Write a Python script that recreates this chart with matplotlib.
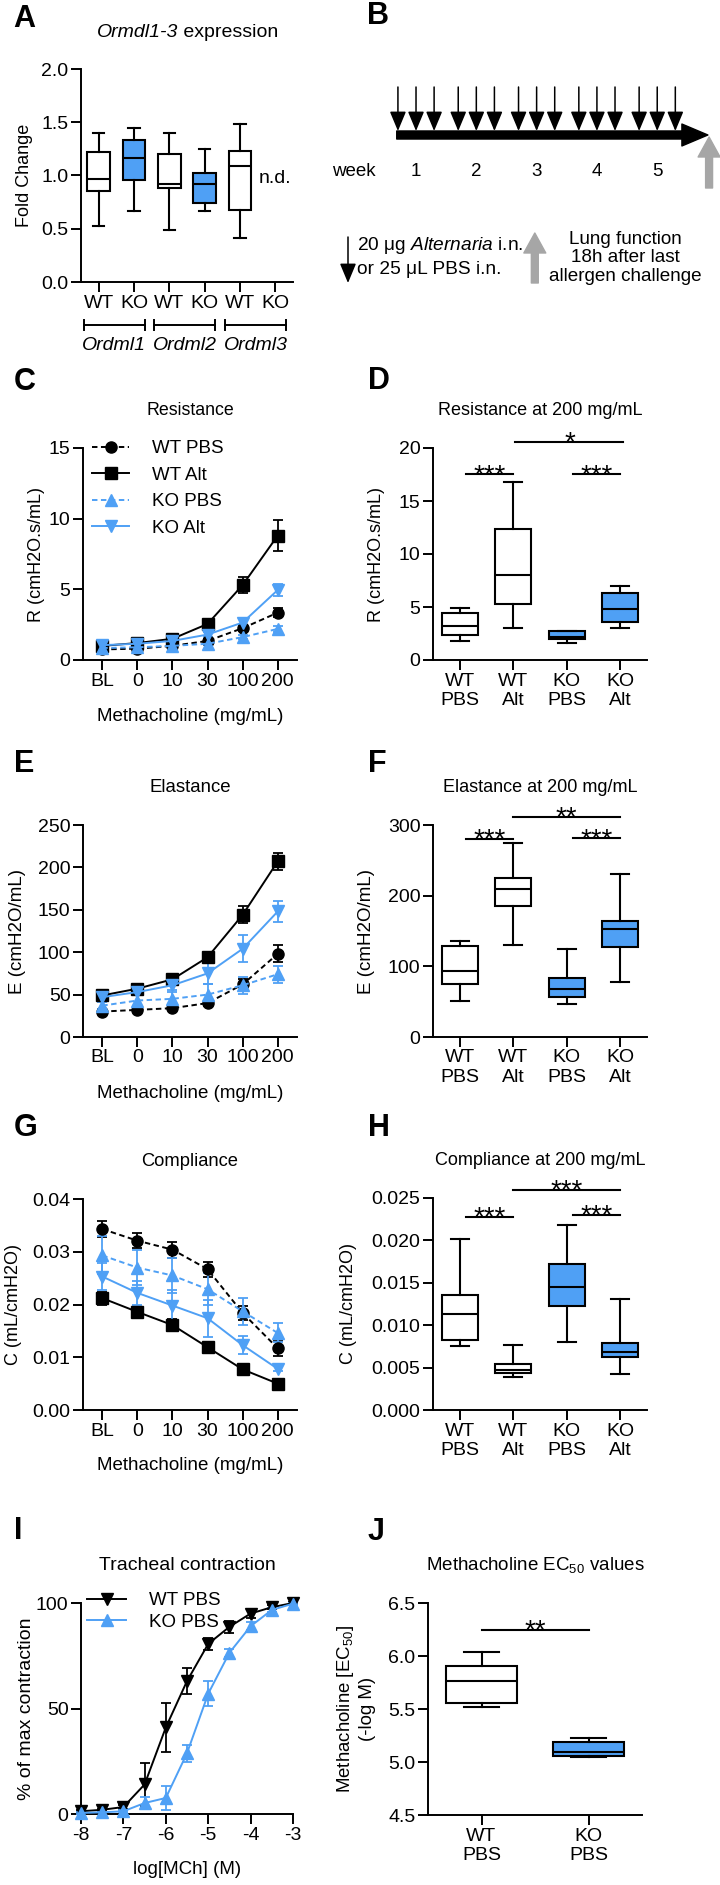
import matplotlib
matplotlib.use('Agg')
import matplotlib.pyplot as plt
from matplotlib.patches import FancyArrowPatch
from matplotlib.ticker import FormatStrFormatter
from matplotlib.transforms import blended_transform_factory

plt.rcParams['font.family'] = ['Liberation Sans', 'DejaVu Sans']
plt.rcParams['mathtext.fontset'] = 'custom'
plt.rcParams['mathtext.rm'] = 'Liberation Sans'
plt.rcParams['mathtext.it'] = 'Liberation Sans:italic'
plt.rcParams['mathtext.bf'] = 'Liberation Sans:bold'
plt.rcParams['axes.unicode_minus'] = False
plt.rcParams['axes.linewidth'] = 1.4

BLUE = '#4FA0F5'
GRAY = '#A6A6A6'

# ---------------- data ----------------
# A: Ormdl expression (whisker low, q1, median, q3, whisker high); Ordml3 KO not detected
ormdl_ticks = ['WT', 'KO', 'WT', 'KO', 'WT', 'KO']
ormdl_genes = ['Ordml1', 'Ordml2', 'Ordml3']
ormdl_stats = [[0.53, 0.85, 0.97, 1.22, 1.40],
               [0.67, 0.96, 1.16, 1.33, 1.45],
               [0.49, 0.88, 0.92, 1.20, 1.40],
               [0.67, 0.74, 0.92, 1.02, 1.25],
               [0.41, 0.68, 1.09, 1.23, 1.48]]
ormdl_ko = [False, True, False, True, False]

# B: dosing schedule, 3 doses per week
weeks = [1, 2, 3, 4, 5]
dose_offsets = [-0.3, 0.0, 0.3]

# C/E/G: lung function curves
mch_doses = ['BL', '0', '10', '30', '100', '200']
groups = ['WT PBS', 'WT Alt', 'KO PBS', 'KO Alt']
group_colors = ['black', 'black', BLUE, BLUE]
group_markers = ['o', 's', '^', 'v']
group_lines = [(0, (2.8, 1.8)), '-', (0, (2.8, 1.8)), '-']

res_wt_pbs = [0.75, 0.80, 1.00, 1.35, 2.25, 3.35]
res_wt_alt = [1.00, 1.20, 1.50, 2.55, 5.30, 8.80]
res_ko_pbs = [0.85, 0.90, 1.00, 1.15, 1.62, 2.20]
res_ko_alt = [1.05, 1.15, 1.35, 1.80, 2.65, 4.95]
res_wt_pbs_err = [0.08, 0.08, 0.10, 0.12, 0.20, 0.30]
res_wt_alt_err = [0.10, 0.10, 0.20, 0.20, 0.55, 1.10]
res_ko_pbs_err = [0.08, 0.08, 0.10, 0.12, 0.15, 0.20]
res_ko_alt_err = [0.10, 0.10, 0.15, 0.15, 0.25, 0.40]

ela_wt_pbs = [30, 32, 34, 40, 62, 98]
ela_wt_alt = [49, 57, 68, 94, 144, 207]
ela_ko_pbs = [37, 43, 45, 50, 61, 74]
ela_ko_alt = [47, 53, 61, 75, 104, 148]
ela_wt_pbs_err = [2, 2, 2, 3, 6, 10]
ela_wt_alt_err = [3, 4, 4, 5, 10, 10]
ela_ko_pbs_err = [4, 6, 8, 12, 10, 10]
ela_ko_alt_err = [3, 4, 6, 12, 16, 12]

com_wt_pbs = [0.0343, 0.0321, 0.0304, 0.0267, 0.0184, 0.0117]
com_wt_alt = [0.0212, 0.0186, 0.0161, 0.0119, 0.0077, 0.0050]
com_ko_pbs = [0.0293, 0.0270, 0.0255, 0.0229, 0.0187, 0.0146]
com_ko_alt = [0.0253, 0.0222, 0.0198, 0.0174, 0.0123, 0.0078]
com_wt_pbs_err = [0.0015, 0.0014, 0.0015, 0.0014, 0.0013, 0.0014]
com_wt_alt_err = [0.0012, 0.0010, 0.0011, 0.0006, 0.0005, 0.0004]
com_ko_pbs_err = [0.0036, 0.0033, 0.0033, 0.0030, 0.0025, 0.0018]
com_ko_alt_err = [0.0025, 0.0022, 0.0030, 0.0035, 0.0017, 0.0005]

# D/F/H: values at 200 mg/mL (whisker low, q1, median, q3, whisker high)
box_groups = ['WT\nPBS', 'WT\nAlt', 'KO\nPBS', 'KO\nAlt']
box_ko = [False, False, True, True]
res200 = [[1.8, 2.4, 3.2, 4.4, 4.9], [3.05, 5.25, 8.05, 12.35, 16.8],
          [1.6, 1.95, 2.2, 2.7, 2.75], [3.0, 3.55, 4.8, 6.35, 6.95]]
ela200 = [[51, 75.6, 93.5, 128.5, 135.6], [130, 185.6, 210, 225, 274],
          [46.3, 56.7, 68.5, 84, 124], [78, 127.5, 152.6, 164, 230]]
com200 = [[0.00756, 0.00823, 0.0113, 0.01354, 0.0202], [0.00386, 0.00433, 0.00472, 0.00543, 0.00768],
          [0.00803, 0.01228, 0.01445, 0.01724, 0.0218], [0.00425, 0.00626, 0.00685, 0.00787, 0.01307]]
# significance bars: (from, to, height, stars)
res200_sig = [(0.12, 1.0, 17.5, '***'), (2.12, 3.0, 17.5, '***'), (1.04, 3.06, 20.6, '*')]
ela200_sig = [(0.12, 1.0, 280, '***'), (2.12, 3.0, 281, '***'), (1.0, 3.0, 312, '**')]
com200_sig = [(0.12, 1.0, 0.0228, '***'), (2.12, 3.0, 0.0230, '***'), (1.0, 3.0, 0.0260, '***')]

# I: tracheal contraction
log_mch = [-8, -7.5, -7, -6.5, -6, -5.5, -5, -4.5, -4, -3.5, -3]
trach_wt = [1.3, 2.0, 3.3, 14, 41, 63, 80.6, 88.7, 95, 98, 100]
trach_ko = [0.5, 0.8, 1.3, 5.2, 7.6, 28.8, 57, 76.4, 89, 96.7, 99.7]
trach_wt_err = [0.5, 0.5, 1, 10, 11.5, 6, 3, 3, 2, 1, 0.5]
trach_ko_err = [0.3, 0.3, 0.5, 3, 5.5, 4, 6, 2, 2, 1, 0.5]

# J: EC50
ec50_groups = ['WT\nPBS', 'KO\nPBS']
ec50 = [[5.52, 5.56, 5.76, 5.91, 6.04], [5.05, 5.06, 5.09, 5.19, 5.23]]
ec50_sig = [(0, 1, 6.25, '**')]

# ---------------- figure ----------------
W, H = 720, 1885
fig = plt.figure(figsize=(W / 100, H / 100), dpi=100)


def px_axes(left, top, right, bottom):
    return fig.add_axes([left / W, 1 - bottom / H, (right - left) / W, (bottom - top) / H])


def prism(ax, title, ylabel, ylab_x, tsize=13.2, ysize=13):
    for s in ['top', 'right']:
        ax.spines[s].set_visible(False)
    ax.tick_params(length=7, width=1.4, labelsize=14, pad=2)
    if title:
        ax.set_title(title, fontsize=tsize, pad=24)
    ax.set_ylabel(ylabel, fontsize=ysize)
    ax.yaxis.set_label_coords(ylab_x, 0.5)


def boxes(ax, stats, ko, width):
    bstats = [dict(whislo=s[0], q1=s[1], med=s[2], q3=s[3], whishi=s[4], fliers=[]) for s in stats]
    art = ax.bxp(bstats, positions=range(len(stats)), widths=width, patch_artist=True,
                 showfliers=False, manage_ticks=False,
                 boxprops=dict(lw=1.5, edgecolor='black'),
                 medianprops=dict(color='black', lw=1.5),
                 whiskerprops=dict(lw=1.5), capprops=dict(lw=1.5))
    for patch, k in zip(art['boxes'], ko):
        patch.set_facecolor(BLUE if k else 'white')


def sig(ax, bars):
    for x1, x2, y, label in bars:
        ax.plot([x1, x2], [y, y], color='black', lw=1.5, clip_on=False)
        ax.annotate(label, xy=((x1 + x2) / 2, y), xytext=(0, -6), textcoords='offset points',
                    ha='center', va='baseline', fontsize=20, annotation_clip=False)


def curves(ax, means, errs):
    x = list(range(len(mch_doses)))
    for g in range(4):
        c = group_colors[g]
        ax.errorbar(x, means[g], yerr=errs[g], fmt='none', ecolor=c, elinewidth=1.3,
                    capsize=3.8, capthick=1.3, clip_on=False, zorder=2)
        ms = 9 if group_markers[g] in '^v' else 8
        ax.plot(x, means[g], color=c, ls=group_lines[g], lw=1.4, marker=group_markers[g],
                ms=ms, mec=c, label=groups[g], clip_on=False, zorder=3)
    ax.set_xlim(-0.55, 5.55)
    ax.set_xticks(x)
    ax.set_xticklabels(mch_doses)
    ax.set_xlabel('Methacholine (mg/mL)', fontsize=13.5)
    ax.xaxis.set_label_coords(0.5, -0.225)


# A
axA = px_axes(81, 69, 293, 282)
boxes(axA, ormdl_stats, ormdl_ko, 0.65)
prism(axA, None, 'Fold Change', -0.226)
axA.text(0.458, 1.150, 'Ormdl1-3', style='italic', fontsize=14, ha='right', va='baseline',
         transform=axA.transAxes)
axA.text(0.458, 1.150, ' expression', fontsize=14, ha='left', va='baseline',
         transform=axA.transAxes)
axA.set_xlim(-0.5, 5.5)
axA.set_ylim(0, 2)
axA.set_xticks(range(6))
axA.set_xticklabels(ormdl_ticks)
axA.set_yticks([0, 0.5, 1.0, 1.5, 2.0])
axA.yaxis.set_major_formatter(FormatStrFormatter('%.1f'))
axA.text(5, 0.97, 'n.d.', ha='center', va='center', fontsize=14)
tA = blended_transform_factory(axA.transData, axA.transAxes)
for g, gene in enumerate(ormdl_genes):
    x0, x1 = 2 * g - 0.42, 2 * g + 1.3
    axA.plot([x0, x1], [-0.202, -0.202], transform=tA, color='black', lw=1.4, clip_on=False)
    for xe in (x0, x1):
        axA.plot([xe, xe], [-0.178, -0.226], transform=tA, color='black', lw=1.4, clip_on=False)
    axA.text((x0 + x1) / 2, -0.296, gene, transform=tA, style='italic', fontsize=14,
             ha='center', va='center')

# B
axB = px_axes(300, 0, 720, 310)
axB.set_xlim(-0.924, 6.041)
axB.set_ylim(310, 0)
axB.axis('off')
for w in weeks:
    for off in dose_offsets:
        axB.add_patch(FancyArrowPatch((w + off, 87), (w + off, 131),
                                      arrowstyle='-|>,head_length=1.2,head_width=0.5',
                                      mutation_scale=10, lw=1.1, color='black',
                                      shrinkA=0, shrinkB=0))
    axB.text(w, 172, str(w), ha='center', va='center', fontsize=13.5)
axB.text(-0.393, 172, 'week', ha='left', va='center', fontsize=13.5)
axB.add_patch(FancyArrowPatch((0.68, 135), (5.84, 135),
                              arrowstyle='simple,head_length=1.87,head_width=1.58,tail_width=0.58',
                              mutation_scale=10, color='black', shrinkA=0, shrinkB=0))
axB.add_patch(FancyArrowPatch((5.86, 188), (5.86, 137),
                              arrowstyle='simple,head_length=1.44,head_width=1.58,tail_width=0.5',
                              mutation_scale=10, color=GRAY, shrinkA=0, shrinkB=0))
axB.add_patch(FancyArrowPatch((-0.128, 237), (-0.128, 283),
                              arrowstyle='-|>,head_length=1.2,head_width=0.5',
                              mutation_scale=10, lw=1.1, color='black',
                              shrinkA=0, shrinkB=0, clip_on=False))
axB.text(0.02, 245, '20 μg $\\mathit{Alternaria}$ i.n.', ha='left', va='center', fontsize=13.8)
axB.text(0.02, 270, 'or 25 μL PBS i.n.', ha='left', va='center', fontsize=13.8)
axB.add_patch(FancyArrowPatch((2.97, 283), (2.97, 233),
                              arrowstyle='simple,head_length=1.44,head_width=1.58,tail_width=0.5',
                              mutation_scale=10, color=GRAY, shrinkA=0, shrinkB=0))
axB.text(4.47, 258, 'Lung function\n18h after last\nallergen challenge', ha='center',
         va='center', fontsize=13.6, linespacing=1.1)

# C
axC = px_axes(83, 448, 297, 660)
curves(axC, [res_wt_pbs, res_wt_alt, res_ko_pbs, res_ko_alt],
       [res_wt_pbs_err, res_wt_alt_err, res_ko_pbs_err, res_ko_alt_err])
prism(axC, 'Resistance', 'R (cmH2O.s/mL)', -0.178, tsize=12.8)
axC.set_ylim(0, 15)
axC.set_yticks([0, 5, 10, 15])
axC.legend(loc='upper left', bbox_to_anchor=(0.042, 1.038), frameon=False, fontsize=13.5,
           handlelength=2.0, handletextpad=1.2, labelspacing=0.5, borderpad=0, borderaxespad=0)

# D
axD = px_axes(433, 448, 647, 660)
boxes(axD, res200, box_ko, 0.67)
prism(axD, 'Resistance at 200 mg/mL', 'R (cmH2O.s/mL)', -0.224, tsize=13)
axD.set_xlim(-0.5, 3.5)
axD.set_ylim(0, 20)
axD.set_yticks([0, 5, 10, 15, 20])
axD.set_xticks(range(4))
axD.set_xticklabels(box_groups)
sig(axD, res200_sig)

# E
axE = px_axes(83, 825, 297, 1037)
curves(axE, [ela_wt_pbs, ela_wt_alt, ela_ko_pbs, ela_ko_alt],
       [ela_wt_pbs_err, ela_wt_alt_err, ela_ko_pbs_err, ela_ko_alt_err])
prism(axE, 'Elastance', 'E (cmH2O/mL)', -0.266, tsize=13.4, ysize=13.5)
axE.set_ylim(0, 250)
axE.set_yticks([0, 50, 100, 150, 200, 250])

# F
axF = px_axes(433, 825, 647, 1037)
boxes(axF, ela200, box_ko, 0.67)
prism(axF, 'Elastance at 200 mg/mL', 'E (cmH2O/mL)', -0.271, tsize=13, ysize=13.5)
axF.set_xlim(-0.5, 3.5)
axF.set_ylim(0, 300)
axF.set_yticks([0, 100, 200, 300])
axF.set_xticks(range(4))
axF.set_xticklabels(box_groups)
sig(axF, ela200_sig)

# G
axG = px_axes(83, 1199, 297, 1410)
curves(axG, [com_wt_pbs, com_wt_alt, com_ko_pbs, com_ko_alt],
       [com_wt_pbs_err, com_wt_alt_err, com_ko_pbs_err, com_ko_alt_err])
prism(axG, 'Compliance', 'C (mL/cmH2O)', -0.285)
axG.set_ylim(0, 0.04)
axG.set_yticks([0, 0.01, 0.02, 0.03, 0.04])
axG.yaxis.set_major_formatter(FormatStrFormatter('%.2f'))

# H
axH = px_axes(433, 1198, 647, 1410)
boxes(axH, com200, box_ko, 0.67)
prism(axH, 'Compliance at 200 mg/mL', 'C (mL/cmH2O)', -0.355, tsize=13)
axH.set_xlim(-0.5, 3.5)
axH.set_ylim(0, 0.025)
axH.set_yticks([0, 0.005, 0.01, 0.015, 0.02, 0.025])
axH.yaxis.set_major_formatter(FormatStrFormatter('%.3f'))
axH.set_xticks(range(4))
axH.set_xticklabels(box_groups)
sig(axH, com200_sig)

# I
axI = px_axes(81, 1603, 293, 1814)
for vals, errs, c, m, lab in [(trach_wt, trach_wt_err, 'black', 'v', 'WT PBS'),
                              (trach_ko, trach_ko_err, BLUE, '^', 'KO PBS')]:
    axI.errorbar(log_mch, vals, yerr=errs, fmt='none', ecolor=c, elinewidth=1.3,
                 capsize=3.8, capthick=1.3, clip_on=False, zorder=2)
    axI.plot(log_mch, vals, color=c, lw=1.4, marker=m, ms=9, mec=c, label=lab,
             clip_on=False, zorder=3)
prism(axI, 'Tracheal contraction', '% of max contraction', -0.217, tsize=14, ysize=14)
axI.set_xlim(-8, -3)
axI.set_ylim(0, 100)
axI.set_xticks([-8, -7, -6, -5, -4, -3])
axI.set_yticks([0, 50, 100])
axI.set_xlabel('log[MCh] (M)', fontsize=13.5)
axI.xaxis.set_label_coords(0.5, -0.225)
axI.legend(loc='upper left', bbox_to_anchor=(0.028, 1.052), frameon=False, fontsize=13.5,
           handlelength=2.1, handletextpad=1.2, labelspacing=0.25, borderpad=0, borderaxespad=0)

# J
axJ = px_axes(428, 1603, 642, 1815)
boxes(axJ, ec50, [False, True], 0.67)
prism(axJ, 'Methacholine EC$_{50}$ values', 'Methacholine [EC$_{50}$]\n(-log M)', -0.243,
      tsize=13.5, ysize=13.4)
axJ.set_xlim(-0.5, 1.5)
axJ.set_ylim(4.5, 6.5)
axJ.set_yticks([4.5, 5.0, 5.5, 6.0, 6.5])
axJ.yaxis.set_major_formatter(FormatStrFormatter('%.1f'))
axJ.set_xticks(range(2))
axJ.set_xticklabels(ec50_groups)
sig(axJ, ec50_sig)

# panel letters
for letter, x, y in [('A', 13, 19), ('B', 367, 16), ('C', 14, 382), ('D', 368, 381),
                     ('E', 14, 764), ('F', 368, 764), ('G', 14, 1128), ('H', 368, 1128),
                     ('I', 14, 1531), ('J', 368, 1532)]:
    fig.text(x / W, 1 - y / H, letter, fontsize=22, fontweight='bold', ha='left', va='center')

fig.savefig('out.png', dpi=100)
